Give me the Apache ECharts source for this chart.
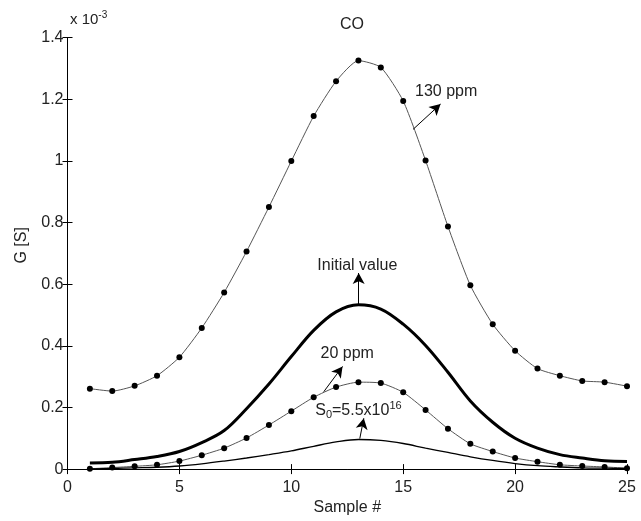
<!DOCTYPE html>
<html>
<head>
<meta charset="utf-8">
<title>CO</title>
<script src="https://cdn.jsdelivr.net/npm/echarts@6/dist/echarts.min.js"></script>
<style>
  html, body { margin: 0; padding: 0; background: #fff; }
  #main { width: 641px; height: 521px; }
</style>
</head>
<body>
<div id="main"></div>
<script>
// sample number (x) and conductance G in units of 1e-3 S
var samples = [1,2,3,4,5,6,7,8,9,10,11,12,13,14,15,16,17,18,19,20,21,22,23,24,25];

var ppm130 = [0.261,0.253,0.270,0.303,0.363,0.458,0.573,0.706,0.850,0.999,1.145,1.258,1.325,
              1.303,1.194,1.001,0.787,0.596,0.470,0.384,0.326,0.303,0.286,0.282,0.269];

var ppm20 = [0.001,0.005,0.009,0.014,0.026,0.045,0.068,0.101,0.143,0.188,0.233,0.266,0.282,
             0.279,0.249,0.192,0.131,0.082,0.057,0.036,0.024,0.014,0.010,0.007,0.003];

var initial = [0.020,0.022,0.031,0.041,0.057,0.086,0.125,0.196,0.276,0.365,0.450,0.510,0.533,
               0.519,0.470,0.401,0.314,0.221,0.152,0.100,0.068,0.047,0.036,0.027,0.025];

var s0 = [0.001,0.002,0.004,0.006,0.010,0.017,0.026,0.036,0.047,0.059,0.074,0.088,0.096,
          0.093,0.083,0.068,0.054,0.040,0.028,0.018,0.011,0.007,0.004,0.003,0.002];

var xTicks = [0,5,10,15,20,25];
var yTicks = [0,0.2,0.4,0.6,0.8,1,1.2,1.4];

// annotation arrows (tail -> head) and label anchors, in data coordinates
var arrow130 = [[15.44,1.102],[16.67,1.184]];
var label130 = [16.92,1.224];
var arrowInit = [[13.01,0.533],[13.01,0.636]];
var labelInit = [12.95,0.661];
var arrow20 = [[11.45,0.251],[12.29,0.333]];
var label20 = [12.5,0.374];
var arrowS0 = [[13.06,0.099],[13.24,0.165]];
var labelS0 = [13.0,0.19];

var myChart = echarts.init(document.getElementById('main'));

function pairs(arr) {
  return samples.map(function(s, i){ return [s, arr[i]]; });
}

var font = 'Liberation Sans, Arial, sans-serif';
var txt = '#222';

function arrow(a) {
  return {
    silent: true,
    animation: false,
    symbol: ['none', 'arrow'],
    symbolSize: [9, 11],
    label: { show: false },
    lineStyle: { color: '#000', width: 1, type: 'solid' },
    data: [[{ coord: a[0] }, { coord: a[1] }]]
  };
}

function note(pos, text, rich) {
  return {
    silent: true,
    animation: false,
    symbol: 'circle',
    symbolSize: 1,
    itemStyle: { color: 'rgba(0,0,0,0)' },
    label: {
      show: true, position: 'inside', formatter: text,
      color: txt, fontSize: 16, fontFamily: font, rich: rich
    },
    data: [{ coord: pos }]
  };
}

var subRich = {
  a: { fontSize: 16, lineHeight: 20, color: txt, fontFamily: font },
  s: { fontSize: 11, lineHeight: 11, verticalAlign: 'bottom', color: txt, fontFamily: font },
  p: { fontSize: 11, lineHeight: 11, verticalAlign: 'top', color: txt, fontFamily: font }
};

var boxAxis = {
  type: 'value',
  min: 0,
  axisLine: { show: true, lineStyle: { color: '#000', width: 1 } },
  axisTick: { show: true, inside: true, length: 5, lineStyle: { color: '#000' } },
  splitLine: { show: false }
};

var option = {
  animation: false,
  title: {
    text: 'CO',
    left: 347,
    top: 12,
    textAlign: 'center',
    textStyle: { fontSize: 16, fontWeight: 'normal', color: txt, fontFamily: font }
  },
  graphic: [{
    type: 'text',
    left: 70,
    top: 10,
    style: {
      text: '{a|x 10}{p|-3}',
      rich: {
        a: { fontSize: 15, lineHeight: 20, fill: txt, fontFamily: font },
        p: { fontSize: 10, lineHeight: 10, verticalAlign: 'top', fill: txt, fontFamily: font }
      }
    }
  }],
  grid: { left: 67.5, right: 14, top: 37.5, bottom: 46 },
  xAxis: [
    Object.assign({}, boxAxis, {
      max: 25, interval: 5, position: 'bottom',
      name: 'Sample #', nameLocation: 'middle', nameGap: 27,
      nameTextStyle: { fontSize: 16, color: txt, fontFamily: font },
      axisLabel: { margin: 10, fontSize: 16, color: txt, fontFamily: font,
        formatter: function(v){ return xTicks.indexOf(v) >= 0 ? String(v) : ''; } }
    }),
    Object.assign({}, boxAxis, { max: 25, interval: 5, position: 'top', axisLabel: { show: false } })
  ],
  yAxis: [
    Object.assign({}, boxAxis, {
      max: 1.4, interval: 0.2, position: 'left',
      name: 'G [S]', nameLocation: 'middle', nameGap: 38, nameRotate: 90,
      nameTextStyle: { fontSize: 16, color: txt, fontFamily: font, padding: [0, 0, 0, 16] },
      axisLabel: { margin: 4, fontSize: 16, color: txt, fontFamily: font,
        formatter: function(v){
          var r = +v.toFixed(1);
          return yTicks.indexOf(r) >= 0 ? String(r) : '';
        } }
    }),
    Object.assign({}, boxAxis, { max: 1.4, interval: 0.2, position: 'right', axisLabel: { show: false } })
  ],
  series: [
    {
      name: '130 ppm', type: 'line', data: pairs(ppm130),
      symbol: 'circle', symbolSize: 6, showAllSymbol: true,
      smooth: 0.2,
      lineStyle: { color: '#555', width: 1 },
      itemStyle: { color: '#000', borderWidth: 0 },
      markLine: arrow(arrow130),
      markPoint: note(label130, '130 ppm')
    },
    {
      name: 'Initial value', type: 'line', data: pairs(initial),
      symbol: 'none',
      smooth: 0.35,
      lineStyle: { color: '#000', width: 3 },
      markLine: arrow(arrowInit),
      markPoint: note(labelInit, 'Initial value')
    },
    {
      name: '20 ppm', type: 'line', data: pairs(ppm20),
      symbol: 'circle', symbolSize: 6, showAllSymbol: true,
      smooth: 0.2,
      lineStyle: { color: '#555', width: 1 },
      itemStyle: { color: '#000', borderWidth: 0 },
      markLine: arrow(arrow20),
      markPoint: note(label20, '20 ppm')
    },
    {
      name: 'S0', type: 'line', data: pairs(s0),
      symbol: 'none',
      smooth: 0.35,
      lineStyle: { color: '#000', width: 1.3 },
      markLine: arrow(arrowS0),
      markPoint: note(labelS0, '{a|S}{s|0}{a|=5.5x10}{p|16}', subRich)
    }
  ]
};

myChart.setOption(option);
</script>
</body>
</html>
